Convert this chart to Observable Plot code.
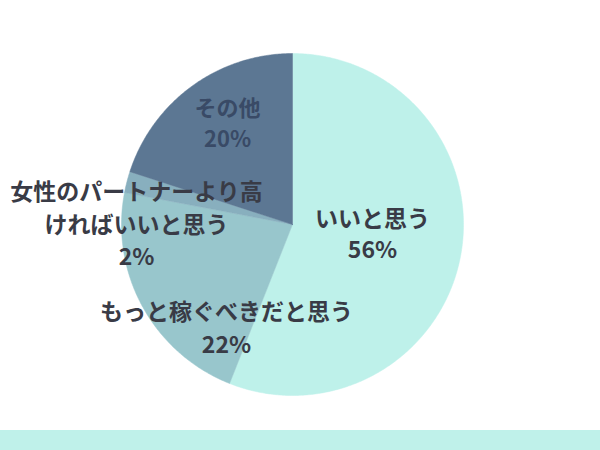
<!DOCTYPE html>
<html>
<head>
<meta charset="utf-8">
<script src="https://cdn.jsdelivr.net/npm/d3@7"></script>
<script src="https://cdn.jsdelivr.net/npm/@observablehq/plot@0.6"></script>
<style>
  html, body { margin: 0; padding: 0; background: #ffffff; }
  #band { width: 600px; height: 20px; background: #bff1ea; }
  svg { display: block; }
</style>
</head>
<body>
<div id="chart"></div>
<div id="band"></div>
<script>
// ---- data ----
const categories = ["いいと思う", "もっと稼ぐべきだと思う", "女性のパートナーより高\nければいいと思う", "その他"];
const values = [56, 22, 2, 20];
const percentLabels = ["56%", "22%", "2%", "20%"];
const colors = ["#bef1ea", "#98c6cc", "#88afbe", "#5c7793"];

// ---- layout ----
const W = 600, H = 430;
const cx = 292, cy = 224, R = 171;
// label block centre (pixel layout), line spacing and size
const labelLayout = [
  {x: 372, y: 232.5, gap: 31, fs: 23, color: "#393b46"},
  {x: 226, y: 325.5, gap: 33, fs: 23, color: "#393b46"},
  {x: 136, y: 222, gap: 32.5, fs: 23, color: "#393b46"},
  {x: 227, y: 121, gap: 30.5, fs: 22, color: "#394a66"}
];

const pie = d3.pie().sort(null).value(d => d)(values);
const slices = [];
pie.forEach((p, i) => {
  const steps = Math.max(4, Math.ceil((p.endAngle - p.startAngle) / 0.01));
  slices.push({x: cx, y: cy, z: i, fill: colors[i]});
  for (let k = 0; k <= steps; k++) {
    const a = p.startAngle + (p.endAngle - p.startAngle) * k / steps;
    slices.push({x: cx + R * Math.sin(a), y: cy - R * Math.cos(a), z: i, fill: colors[i]});
  }
  slices.push({x: cx, y: cy, z: i, fill: colors[i]});
});

const labelMarks = categories.map((c, i) => {
  const L = labelLayout[i];
  return Plot.text([{text: c + "\n" + percentLabels[i], x: L.x, y: L.y}], {
    x: "x", y: "y", text: "text", fill: L.color, fontSize: L.fs, fontWeight: "bold",
    lineAnchor: "middle", lineHeight: L.gap / L.fs
  });
});

const chart = Plot.plot({
  width: W,
  height: H,
  margin: 0,
  x: {domain: [0, W], range: [0, W], axis: null},
  y: {domain: [0, H], range: [0, H], axis: null},
  style: {fontFamily: "'Noto Sans CJK JP', 'Noto Sans', sans-serif", background: "#ffffff"},
  marks: [
    Plot.line(slices, {x: "x", y: "y", z: "z", fill: "fill", stroke: "fill", strokeWidth: 0.5}),
    ...labelMarks
  ]
});
document.getElementById("chart").appendChild(chart);
</script>
</body>
</html>
